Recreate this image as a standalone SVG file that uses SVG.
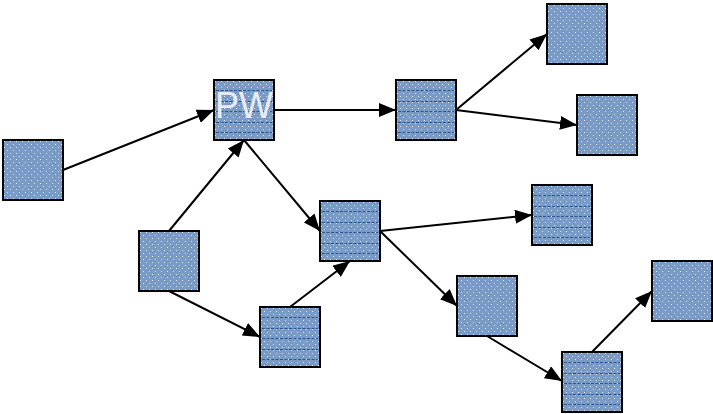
<svg xmlns="http://www.w3.org/2000/svg" xmlns:xlink="http://www.w3.org/1999/xlink" width="713" height="414" viewBox="0 0 713 414">
  <style>
    .box { fill: url(#dots); stroke: #000; stroke-width: 2; }
    .rule { stroke: #2a5896; stroke-width: 1; stroke-dasharray: 3 1.5; }
    .edge { stroke: #000; stroke-width: 2; fill: none; marker-end: url(#arrow); }
    .label { font-family: "Liberation Sans", Arial, sans-serif; font-size: 36px; fill: #e9edf3; }
  </style>
  <defs>
    <pattern id="dots" patternUnits="userSpaceOnUse" width="6" height="6">
      <rect width="6" height="6" fill="#7b9bc7"/>
      <rect x="1" y="1" width="1" height="1" fill="#dfe8f5"/>
      <rect x="4" y="4" width="1" height="1" fill="#dfe8f5"/>
    </pattern>
    <!-- horizontal dashed ruling used on the striped boxes -->
    <g id="ruling">
      <line class="rule" x1="2" y1="10.5" x2="58" y2="10.5"/>
      <line class="rule" x1="2" y1="21.5" x2="58" y2="21.5"/>
      <line class="rule" x1="2" y1="31.5" x2="58" y2="31.5"/>
      <line class="rule" x1="2" y1="42.5" x2="58" y2="42.5"/>
      <line class="rule" x1="2" y1="52.5" x2="58" y2="52.5"/>
    </g>
    <marker id="arrow" markerUnits="userSpaceOnUse" markerWidth="17" markerHeight="14" refX="17" refY="7" orient="auto">
      <path d="M0,0 L17,7 L0,14 Z" fill="#000"/>
    </marker>
  </defs>

  <g id="connectors">
    <line class="edge" x1="63" y1="170" x2="214" y2="110"/>
    <line class="edge" x1="274" y1="110" x2="396" y2="110"/>
    <line class="edge" x1="456" y1="110" x2="547" y2="34"/>
    <line class="edge" x1="456" y1="110" x2="577" y2="125"/>
    <line class="edge" x1="169" y1="231" x2="244" y2="140"/>
    <line class="edge" x1="244" y1="140" x2="320" y2="231"/>
    <line class="edge" x1="169" y1="291" x2="260" y2="337"/>
    <line class="edge" x1="290" y1="307" x2="350" y2="261"/>
    <line class="edge" x1="380" y1="231" x2="532" y2="215"/>
    <line class="edge" x1="380" y1="231" x2="457" y2="306"/>
    <line class="edge" x1="487" y1="336" x2="562" y2="381"/>
    <line class="edge" x1="592" y1="352" x2="652" y2="291"/>
  </g>

  <g id="n1" transform="translate(3,140)">
    <rect class="box" width="60" height="60"/>
  </g>
  <g id="n2" transform="translate(214,80)">
    <rect class="box" width="60" height="60"/>
    <use xlink:href="#ruling"/>
    <text class="label" x="1" y="38">PW</text>
  </g>
  <g id="n3" transform="translate(396,80)">
    <rect class="box" width="60" height="60"/>
    <use xlink:href="#ruling"/>
  </g>
  <g id="n4" transform="translate(547,4)">
    <rect class="box" width="60" height="60"/>
  </g>
  <g id="n5" transform="translate(577,95)">
    <rect class="box" width="60" height="60"/>
  </g>
  <g id="n6" transform="translate(320,201)">
    <rect class="box" width="60" height="60"/>
    <use xlink:href="#ruling"/>
  </g>
  <g id="n7" transform="translate(139,231)">
    <rect class="box" width="60" height="60"/>
  </g>
  <g id="n8" transform="translate(260,307)">
    <rect class="box" width="60" height="60"/>
    <use xlink:href="#ruling"/>
  </g>
  <g id="n9" transform="translate(532,185)">
    <rect class="box" width="60" height="60"/>
    <use xlink:href="#ruling"/>
  </g>
  <g id="n10" transform="translate(457,276)">
    <rect class="box" width="60" height="60"/>
  </g>
  <g id="n11" transform="translate(562,352)">
    <rect class="box" width="60" height="60"/>
    <use xlink:href="#ruling"/>
  </g>
  <g id="n12" transform="translate(652,261)">
    <rect class="box" width="60" height="60"/>
  </g>
</svg>
